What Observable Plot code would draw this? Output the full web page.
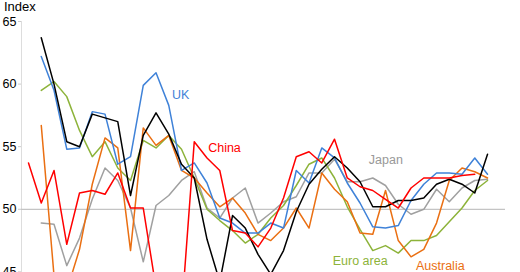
<!DOCTYPE html>
<html><head><meta charset="utf-8">
<script src="https://cdn.jsdelivr.net/npm/d3@7"></script>
<script src="https://cdn.jsdelivr.net/npm/@observablehq/plot@0.6"></script>
<style>
html,body{margin:0;padding:0;overflow:hidden;background:#fff;}
#chart{width:520px;height:272px;overflow:hidden;font-family:"Liberation Sans",Arial,sans-serif;}
#title{height:14px;line-height:13px;font-size:13px;padding-left:4px;color:#000;}
</style></head><body>
<div id="chart"><div id="title">Index</div></div>
<script>
// Series names, colours (draw order) and values
const seriesNames = ["Japan", "Euro area", "Australia", "UK", "US", "China"];
const seriesColors = ["#a0a0a0", "#8db33a", "#ea6f12", "#3f82d8", "#000000", "#ff0000"];
const seriesStart = [1, 1, 1, 1, 1, 0];

const japan = [48.9,48.8,45.5,47.7,50.8,53.3,52.3,50.1,45.8,50.3,51.1,52.3,53.0,50.1,49.3,50.9,51.7,48.9,49.7,50.6,51.0,52.9,52.9,54.0,52.2,52.2,52.5,51.9,50.4,49.6,50.0,51.6,50.6,51.7,52.3,52.4];
const euroArea = [59.5,60.2,59.0,56.3,54.2,55.4,53.3,52.3,55.5,54.9,55.9,54.8,52.5,50.0,49.1,48.3,47.3,48.0,49.3,50.3,51.9,53.6,54.1,52.5,50.2,48.4,46.7,47.1,46.5,47.5,47.5,47.9,49.0,50.1,51.5,52.3];
const australia = [56.7,44.7,43.5,46.8,52.0,55.7,54.9,46.7,56.5,55.1,55.9,53.1,52.5,51.3,50.2,50.9,49.7,48.0,47.5,48.5,50.1,48.5,52.9,51.6,50.6,48.1,48.0,51.5,47.5,46.2,46.8,48.9,52.3,53.3,53.0,52.5];
const uk = [62.2,59.5,54.8,54.9,57.8,57.6,53.6,54.2,59.9,60.9,58.3,53.1,53.7,52.1,49.3,48.9,48.1,48.1,48.9,48.5,53.1,52.1,54.9,54.1,52.1,50.5,48.6,48.5,48.7,50.7,52.0,52.9,52.9,52.8,54.1,52.8];
const us = [63.7,60.0,55.4,55.0,57.6,57.3,57.0,51.1,55.9,57.7,56.0,53.6,52.5,47.6,44.2,49.5,48.5,46.4,44.8,46.7,49.8,52.0,53.2,54.2,53.3,52.2,50.2,50.2,50.7,50.7,50.9,52.0,52.4,52.0,51.3,54.4];
const china = [53.7,50.5,53.1,47.2,51.3,51.5,51.2,52.9,50.1,50.1,43.7,39.5,41.7,55.4,54.1,53.1,48.3,48.1,47.0,48.5,50.9,54.2,54.6,53.7,55.6,52.5,51.8,51.5,50.8,50.1,51.7,52.5,52.5,52.5,52.7,52.8];
const seriesValues = [japan, euroArea, australia, uk, us, china];

const yTicks = [45, 50, 55, 60, 65];
const refLine = [50];

// Series labels: anchor in data units (period index, index value)
const labelText = ["UK", "China", "Japan", "Euro area", "Australia"];
const labelX = [11.26, 14.09, 26.69, 23.86, 30.39];
const labelY = [59.1, 54.9, 53.9, 45.9, 45.45];
const labelColor = ["#3f82d8", "#ff0000", "#999999", "#8db33a", "#ea6f12"];

const table = [];
seriesNames.forEach((name, s) => {
  seriesValues[s].forEach((v, k) => table.push({series: name, i: seriesStart[s] + k, v}));
});
const labels = labelText.map((t, k) => ({t, x: labelX[k], y: labelY[k], c: labelColor[k]}));

const chart = Plot.plot({
  width: 520,
  height: 355,
  marginTop: 7,
  marginBottom: 10,
  marginLeft: 21,
  marginRight: 15,
  style: {fontFamily: '"Liberation Sans", Arial, sans-serif', fontSize: "12.5px", background: "#fff", overflow: "visible"},
  x: {domain: [-0.55, 37.41], axis: null},
  y: {domain: [38, 65], axis: null},
  color: {domain: seriesNames, range: seriesColors},
  marks: [
    Plot.frame({anchor: "left", stroke: "#dddddd"}),
    Plot.axisY({ticks: yTicks, tickSize: 3, tickPadding: 2, stroke: "#cccccc", fill: "#000", fontSize: 12.5, label: null}),
    Plot.ruleY(refLine, {stroke: "#c4c4c4", strokeWidth: 1.3}),
    Plot.line(table, {x: "i", y: "v", z: "series", stroke: "series", strokeWidth: 1.5}),
    Plot.text(labels, {x: "x", y: "y", text: "t", fill: "c", textAnchor: "start", fontSize: 12.5})
  ]
});
document.getElementById("chart").appendChild(chart);
</script>
</body></html>
